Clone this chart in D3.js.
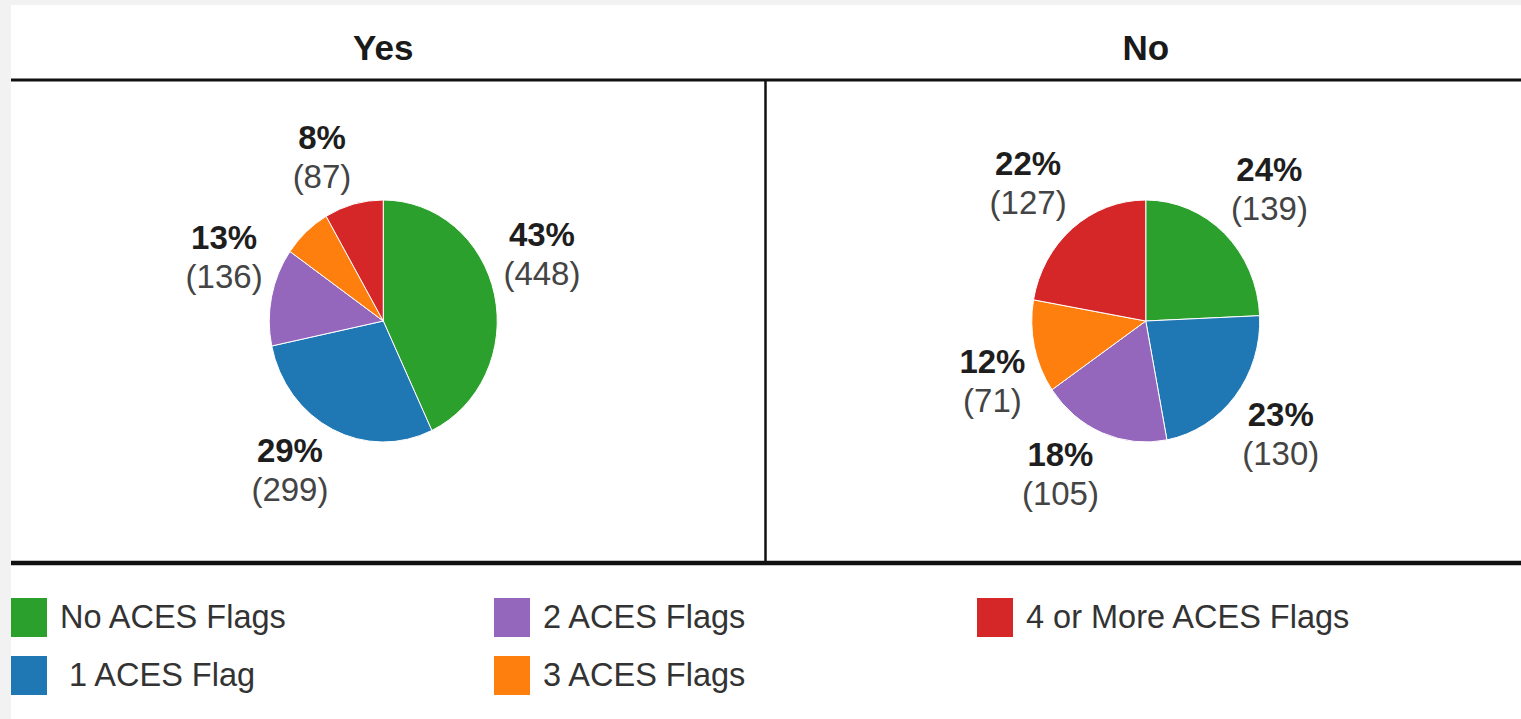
<!DOCTYPE html>
<html>
<head>
<meta charset="utf-8">
<script src="https://cdn.jsdelivr.net/npm/d3@7"></script>
<style>
  html, body { margin: 0; padding: 0; background: #f2f2f2; }
  svg { display: block; font-family: "Liberation Sans", Arial, sans-serif; }
</style>
</head>
<body>
<svg id="chart" width="1521" height="719"></svg>
<script>
// Categories (legend order = slice order, clockwise from 12 o'clock)
const categories = ["No ACES Flags", " 1 ACES Flag", "2 ACES Flags", "3 ACES Flags", "4 or More ACES Flags"];
const colors = ["#2ca02c", "#1f77b4", "#9467bd", "#ff7f0e", "#d62728"];

// Panel titles
const panels = ["Yes", "No"];

// Counts per category for each panel
const yesCounts = [448, 299, 136, 72, 87];
const noCounts  = [139, 130, 105, 71, 127];

const seriesByPanel = { "Yes": yesCounts, "No": noCounts };

const W = 1521, H = 719;
const svg = d3.select("#chart");

// page frame
svg.append("rect").attr("x", 11).attr("y", 5).attr("width", W - 11).attr("height", H - 5).attr("fill", "#ffffff");

const headerLineY = 80, footerLineY = 563;
const x = d3.scaleBand().domain(panels).range([2, 1527]);

// header titles
svg.selectAll("text.title").data(panels).join("text")
  .attr("class", "title")
  .attr("x", d => x(d) + x.bandwidth() / 2)
  .attr("y", 60)
  .attr("text-anchor", "middle")
  .attr("font-size", 35).attr("font-weight", "bold")
  .attr("fill", "#1a1a1a")
  .text(d => d);

// grid lines
svg.append("line").attr("x1", 11).attr("x2", W).attr("y1", headerLineY).attr("y2", headerLineY)
  .attr("stroke", "#111").attr("stroke-width", 3);
svg.append("line").attr("x1", 11).attr("x2", W).attr("y1", footerLineY).attr("y2", footerLineY)
  .attr("stroke", "#111").attr("stroke-width", 4.5);
svg.append("line").attr("x1", x("No") + 1).attr("x2", x("No") + 1)
  .attr("y1", headerLineY).attr("y2", footerLineY - 2)
  .attr("stroke", "#111").attr("stroke-width", 2.5);

// pies
const ry = 121, rx = 114;
const cy = 321;
const pie = d3.pie().sort(null).value(d => d);
const arc = d3.arc().innerRadius(0).outerRadius(ry);
const pct = d3.format(".0%");

const capH = 24, lineGap = 39, desc = 7;
const labelR = 1.08;

function overlaps(a, b, pad) {
  return !(a.x1 + pad <= b.x0 || b.x1 + pad <= a.x0 || a.y1 + pad <= b.y0 || b.y1 + pad <= a.y0);
}

panels.forEach(p => {
  const values = seriesByPanel[p];
  const total = d3.sum(values);
  const cx = x(p) + x.bandwidth() / 2;
  const arcs = pie(values);

  svg.append("g")
    .attr("transform", `translate(${cx},${cy}) scale(${rx / ry},1)`)
    .selectAll("path").data(arcs).join("path")
    .attr("d", arc)
    .attr("fill", (d, i) => colors[i])
    .attr("stroke", "#ffffff")
    .attr("stroke-width", 1)
    .attr("vector-effect", "non-scaling-stroke");

  // labels: larger slices get placed first, colliding ones are dropped
  const placed = [];
  const order = d3.range(arcs.length).sort((a, b) => values[b] - values[a]);
  const labelLayer = svg.append("g");
  order.forEach(i => {
    const a = arcs[i];
    const mid = (a.startAngle + a.endAngle) / 2;
    const sx = Math.sin(mid), sy = -Math.cos(mid);
    const ax = cx + labelR * rx * sx;
    const ay = cy + labelR * ry * sy;

    const g = labelLayer.append("g");
    const t1 = g.append("text").attr("text-anchor", "middle")
      .attr("font-size", 33).attr("font-weight", "bold").attr("fill", "#1e1e1e")
      .text(pct(values[i] / total));
    const t2 = g.append("text").attr("text-anchor", "middle")
      .attr("font-size", 33).attr("fill", "#444")
      .text(`(${values[i]})`);
    const w = Math.max(t1.node().getComputedTextLength(), t2.node().getComputedTextLength());
    const h = capH + lineGap + desc;
    const x0 = sx >= 0 ? ax : ax - w;
    const y0 = sy >= 0 ? ay : ay - h;
    const box = { x0: x0, x1: x0 + w, y0: y0, y1: y0 + h };
    if (placed.some(b => overlaps(box, b, 2))) { g.remove(); return; }
    placed.push(box);
    const mx = x0 + w / 2;
    t1.attr("x", mx).attr("y", y0 + capH);
    t2.attr("x", mx).attr("y", y0 + capH + lineGap);
  });
});

// legend: two rows per column
const legendX = d3.scaleLinear().domain([0, 2]).range([11, 977]);
const legendY = d3.scaleLinear().domain([0, 1]).range([598, 656]);
const leg = svg.append("g").selectAll("g").data(categories).join("g")
  .attr("transform", (d, i) => `translate(${legendX(Math.floor(i / 2))},${legendY(i % 2)})`);
leg.append("rect").attr("width", 36).attr("height", 39).attr("fill", (d, i) => colors[i]);
leg.append("text").attr("x", 49).attr("y", 30)
  .attr("font-size", 32.5).attr("fill", "#333")
  .style("white-space", "pre")
  .text(d => d);
</script>
</body>
</html>
